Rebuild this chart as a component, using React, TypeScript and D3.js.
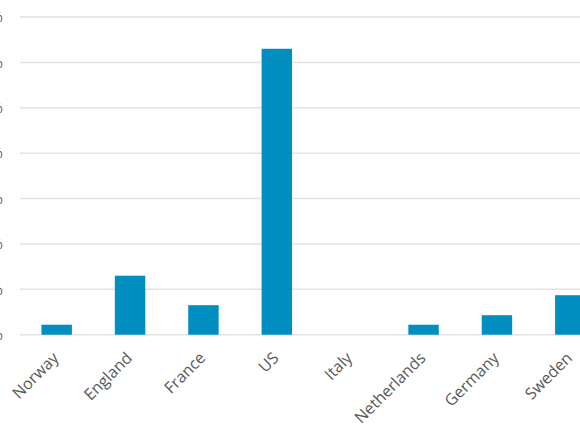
import { useEffect, useRef } from 'react';
import * as d3 from 'd3';

const countries = ['Norway', 'England', 'France', 'US', 'Italy', 'Netherlands', 'Germany', 'Sweden'];
const shares = [2.2, 13.0, 6.5, 63.0, 0, 2.2, 4.3, 8.7];
const yTicks = [0, 10, 20, 30, 40, 50, 60, 70];

const W = 580;
const H = 435;

const App = () => {
  const ref = useRef<SVGSVGElement>(null);

  useEffect(() => {
    const svg = d3.select(ref.current);
    svg.selectAll('*').remove();

    const data = countries.map((c, i) => ({ country: c, value: shares[i] }));

    const x = d3
      .scaleBand()
      .domain(countries)
      .range([20, 607])
      .paddingInner(0.585)
      .paddingOuter(0.2925);

    const y = d3.scaleLinear().domain([0, 70]).range([334.7, 17]);

    // gridlines
    svg
      .append('g')
      .selectAll('line')
      .data(yTicks)
      .join('line')
      .attr('x1', 20)
      .attr('x2', W)
      .attr('y1', (d) => y(d))
      .attr('y2', (d) => y(d))
      .attr('stroke', '#e2e2e2')
      .attr('stroke-width', 1.5);

    // y labels (mostly clipped at the left edge, as in the source)
    svg
      .append('g')
      .selectAll('text')
      .data(yTicks)
      .join('text')
      .attr('x', 3)
      .attr('y', (d) => y(d))
      .attr('dy', '0.35em')
      .attr('text-anchor', 'end')
      .attr('font-family', '"Open Sans", sans-serif')
      .attr('font-size', 15)
      .attr('fill', '#595959')
      .text((d) => `${d}%`);

    svg
      .append('g')
      .attr('fill', '#008fc0')
      .selectAll('rect')
      .data(data)
      .join('rect')
      .attr('x', (d) => x(d.country)!)
      .attr('y', (d) => y(d.value))
      .attr('width', x.bandwidth())
      .attr('height', (d) => y(0) - y(d.value));

    svg
      .append('g')
      .selectAll('text')
      .data(countries)
      .join('text')
      .attr('transform', (d) => {
        const cx = x(d)! + x.bandwidth() / 2 + 3;
        return `translate(${cx},359) rotate(-45)`;
      })
      .attr('text-anchor', 'end')
      .attr('font-family', '"Open Sans", sans-serif')
      .attr('font-size', 16)
      .attr('fill', '#595959')
      .text((d) => d);
  }, []);

  return (
    <svg
      ref={ref}
      width={W}
      height={H}
      style={{ position: 'absolute', left: 0, top: 0, background: '#fff' }}
    />
  );
};

export default App;
